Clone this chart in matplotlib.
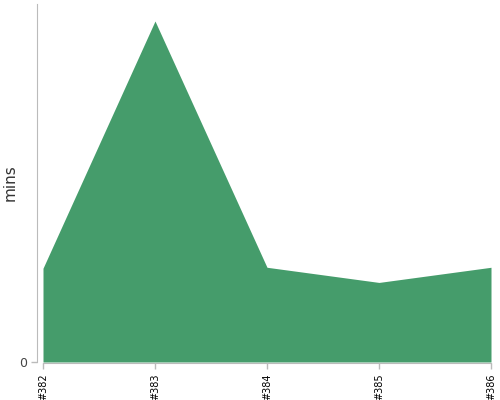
import matplotlib
matplotlib.use("Agg")
import matplotlib.pyplot as plt

builds = ["#382", "#383", "#384", "#385", "#386"]
minutes = [9.9, 36.0, 10.0, 8.4, 10.0]

fig = plt.figure(figsize=(5, 4), dpi=100)
ax = fig.add_axes([43/500, 1-362/400, 448/500, 358/400])
x = list(range(len(builds)))
ax.fill_between(x, 0, minutes, color="#459c6b", linewidth=0)
ax.set_xlim(0, len(builds)-1)
ax.set_ylim(0, 36.0*358/341)
ax.set_xticks(x)
ax.set_xticklabels(builds)
ax.set_yticks([0])
ax.set_yticklabels(["0"])
for s in ["top", "right"]:
    ax.spines[s].set_visible(False)
ax.spines["left"].set_position(("outward", 4))
ax.spines["bottom"].set_position(("outward", 1))
ax.spines["left"].set_color("#bbbbbb")
ax.spines["bottom"].set_color("#bbbbbb")
ax.tick_params(axis="both", colors="#bbbbbb", length=4, width=1)
ax.tick_params(axis="x", labelcolor="#000000", pad=3, labelrotation=90, labelsize=7)
ax.tick_params(axis="y", labelcolor="#444444", labelsize=9)
ax.yaxis.set_label_coords(-25/448, 0.5)
ax.set_ylabel("mins", fontsize=11, color="#333333")
fig.savefig("out.png", dpi=100)
